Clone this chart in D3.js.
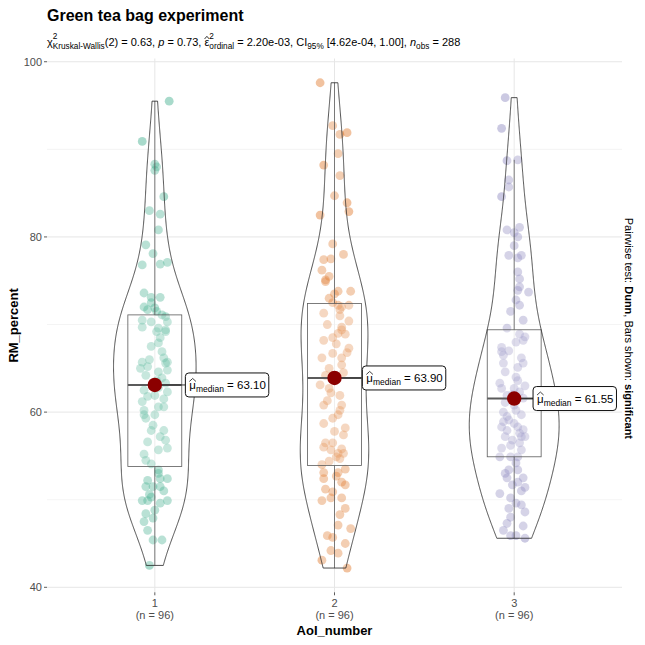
<!DOCTYPE html>
<html lang="en">
<head>
<meta charset="UTF-8">
<title>Green tea bag experiment</title>
<script src="https://d3js.org/d3.v7.min.js"></script>
<style>
  body { margin: 0; background: #fff; }
  svg { font-family: "Liberation Sans", Arial, sans-serif; }
  text { white-space: pre; }
</style>
</head>
<body>
<svg width="645" height="645"></svg>
<script>
const width = 645, height = 645;

// ---- data ----
const groups = ["1", "2", "3"];
const groupCounts = [96, 96, 96];
const groupColors = ["#1B9E77", "#D95F02", "#7570B3"];
const medians = [63.10, 63.90, 61.55];
const q1 = [53.8, 53.9, 54.9];
const q3 = [71.1, 72.4, 69.4];
const yTicks = [40, 60, 80, 100];
const yMinorTicks = [50, 70, 90];

// [horizontal jitter (category units), RM_percent]
const aoi1 = [
  [0.08,95.5],[-0.07,90.9],[0.00,88.3],[0.01,88.0],[0.00,87.6],[0.05,84.6],[-0.03,83.0],[0.03,82.6],
  [0.02,80.8],[-0.05,79.1],[-0.01,78.1],[-0.07,76.8],[0.03,76.9],[0.07,77.1],[-0.06,73.6],[-0.02,73.1],
  [0.03,73.1],[-0.02,72.5],[-0.06,72.0],[0.00,71.9],[0.04,71.1],[0.06,70.9],[-0.07,70.5],[-0.02,70.3],
  [0.07,70.3],[-0.07,69.7],[0.02,69.6],[0.06,69.4],[0.01,69.2],[0.06,69.2],[0.02,67.9],[0.04,66.9],
  [-0.07,65.7],[0.07,65.7],[0.06,65.6],[-0.08,65.0],[-0.04,65.2],[0.02,64.6],[0.07,64.8],[0.07,62.3],
  [-0.06,62.5],[0.00,61.9],[-0.07,61.2],[-0.06,60.2],[0.02,60.6],[0.05,60.6],[-0.06,59.7],[0.00,59.7],
  [-0.05,59.3],[-0.02,57.9],[0.05,57.9],[-0.04,56.6],[0.06,56.8],[0.02,55.7],[0.07,55.9],[-0.05,54.5],
  [-0.02,54.1],[0.02,53.0],[-0.04,52.2],[0.03,52.4],[0.07,52.4],[-0.05,51.5],[-0.01,51.5],[0.03,51.5],
  [-0.07,49.9],[-0.04,49.9],[0.03,49.6],[0.07,49.9],[-0.05,48.4],[-0.01,47.9],[-0.06,47.5],[-0.04,46.5],
  [-0.01,45.4],[0.04,45.4],[-0.03,42.5],[0.01,71.5],[-0.04,71.7],[0.03,68.5],[-0.02,67.5],[0.05,66.2],
  [-0.05,64.2],[0.01,63.6],[0.04,63.9],[-0.03,66.0],[0.02,62.8],[-0.04,61.8],[0.05,61.5],[-0.01,58.5],
  [0.03,57.2],[-0.06,55.2],[0.02,53.4],[-0.03,50.6],[0.05,51.0],[0.00,48.8],[-0.02,50.3],[0.06,63.3]
];
const aoi2 = [
  [-0.08,97.6],[-0.01,92.7],[0.03,91.7],[0.07,91.9],[0.02,89.5],[-0.06,88.2],[0.03,87.0],[0.00,84.7],
  [0.07,83.9],[0.08,82.9],[-0.08,82.5],[-0.01,79.2],[-0.06,77.4],[-0.02,77.5],[-0.07,76.2],[-0.03,75.5],
  [-0.05,74.9],[-0.05,75.1],[0.02,73.8],[0.09,73.8],[-0.03,73.0],[-0.01,72.5],[0.02,72.2],[0.04,72.0],
  [0.08,72.2],[0.03,71.7],[-0.06,71.3],[0.08,70.4],[0.04,69.7],[0.04,69.4],[-0.06,68.2],[-0.01,68.5],
  [0.08,67.3],[0.04,66.2],[-0.07,66.2],[-0.01,66.7],[0.04,65.4],[-0.08,63.1],[-0.03,62.7],[0.03,61.9],
  [-0.06,60.8],[0.04,60.8],[0.02,59.7],[-0.01,59.3],[-0.06,58.7],[0.05,57.4],[-0.05,56.5],[-0.01,56.5],
  [-0.02,55.7],[0.02,55.3],[0.05,55.3],[0.03,54.7],[0.01,54.9],[-0.07,54.0],[-0.06,53.1],[0.02,53.1],
  [-0.06,52.4],[0.04,52.0],[0.06,51.7],[-0.02,50.2],[-0.07,49.9],[-0.01,50.9],[0.04,50.2],[0.06,49.0],
  [0.02,47.1],[0.09,46.7],[-0.04,45.9],[-0.01,45.7],[0.06,45.0],[-0.02,44.2],[0.02,43.9],[-0.07,43.1],
  [0.07,42.2],[0.05,78.0],[0.00,73.5],[0.03,71.0],[-0.04,70.0],[0.06,68.9],[0.01,67.8],[-0.03,65.0],
  [0.05,64.5],[-0.05,64.2],[0.02,69.0],[0.07,66.8],[-0.02,62.2],[0.03,60.2],[-0.04,61.3],[0.06,58.2],
  [0.00,57.8],[-0.06,56.0],[0.04,55.8],[-0.03,54.4],[0.01,52.7],[-0.05,51.2],[0.03,48.3],[0.06,53.5]
];
const aoi3 = [
  [-0.05,95.9],[-0.07,92.4],[-0.04,88.7],[0.02,88.8],[-0.03,86.5],[-0.03,85.7],[-0.07,84.6],[-0.04,80.8],
  [0.00,80.5],[0.02,80.0],[0.03,81.1],[-0.03,77.9],[0.02,77.6],[0.04,77.9],[0.02,76.0],[0.03,74.3],
  [0.02,73.9],[0.08,73.7],[0.01,72.8],[0.03,72.2],[-0.04,69.6],[0.06,68.6],[0.01,68.0],[-0.07,67.4],
  [-0.07,66.9],[0.05,68.2],[-0.06,65.6],[0.02,65.1],[0.05,65.6],[0.01,64.0],[-0.08,63.3],[-0.07,62.7],
  [0.00,62.7],[-0.04,61.9],[0.03,62.3],[0.05,61.6],[-0.05,61.1],[0.01,60.2],[0.04,59.7],[-0.06,60.0],
  [-0.03,59.1],[-0.07,58.3],[-0.04,57.9],[0.00,58.7],[0.02,58.3],[0.04,57.2],[0.06,57.2],[-0.05,57.2],
  [-0.01,56.8],[-0.07,55.9],[0.04,55.7],[-0.08,54.9],[-0.02,54.9],[0.02,54.9],[-0.03,53.4],[0.02,53.4],
  [0.05,52.5],[-0.04,52.5],[-0.01,51.7],[0.06,51.4],[-0.08,50.7],[0.01,49.6],[0.04,49.4],[0.06,48.6],
  [-0.02,48.0],[-0.04,47.3],[-0.06,46.5],[-0.02,45.9],[0.01,45.9],[0.06,45.6],[0.03,75.2],[-0.02,71.5],
  [0.05,70.5],[0.00,79.0],[-0.03,67.0],[0.04,66.2],[-0.05,64.6],[0.02,63.6],[-0.01,62.0],[0.06,63.0],
  [-0.06,66.5],[0.03,68.9],[0.00,60.8],[-0.04,59.5],[0.05,58.0],[-0.02,56.2],[0.03,56.5],[-0.06,58.9],
  [0.01,54.2],[-0.05,53.0],[0.04,51.0],[-0.02,50.2],[0.05,47.0],[-0.03,49.0],[0.02,52.0],[0.03,57.6]
];
const groupData = [aoi1, aoi2, aoi3];

// ---- layout ----
const panel = { left: 47, right: 622, top: 58.5, bottom: 592.3 };
const svg = d3.select("svg");

const allValues = groupData.flat().map(d => d[1]);
const [vMin, vMax] = d3.extent(allValues);
const pad = (vMax - vMin) * 0.05;

const x = d3.scaleLinear().domain([0.4, groups.length + 0.6]).range([panel.left, panel.right]);
const y = d3.scaleLinear().domain([vMin - pad, vMax + pad]).range([panel.bottom, panel.top]);
const step = x(2) - x(1);

// ---- grid ----
const grid = svg.append("g");
grid.selectAll(".minor").data(yMinorTicks).enter().append("line")
  .attr("x1", panel.left).attr("x2", panel.right)
  .attr("y1", d => y(d)).attr("y2", d => y(d))
  .attr("stroke", "#efefef").attr("stroke-width", 0.7);
grid.selectAll(".major").data(yTicks).enter().append("line")
  .attr("x1", panel.left).attr("x2", panel.right)
  .attr("y1", d => y(d)).attr("y2", d => y(d))
  .attr("stroke", "#e6e6e6").attr("stroke-width", 1);
grid.selectAll(".vmajor").data(groups).enter().append("line")
  .attr("x1", (d, i) => x(i + 1)).attr("x2", (d, i) => x(i + 1))
  .attr("y1", panel.top).attr("y2", panel.bottom)
  .attr("stroke", "#e6e6e6").attr("stroke-width", 1);

// ---- axes ----
const yAxis = svg.append("g");
yAxis.selectAll("line").data(yTicks).enter().append("line")
  .attr("x1", panel.left - 3).attr("x2", panel.left)
  .attr("y1", d => y(d)).attr("y2", d => y(d))
  .attr("stroke", "#333").attr("stroke-width", 0.8);
yAxis.selectAll("text").data(yTicks).enter().append("text")
  .attr("x", panel.left - 5).attr("y", d => y(d) + 4)
  .attr("text-anchor", "end").attr("font-size", 11).attr("fill", "#4d4d4d")
  .text(d => d);

const xAxis = svg.append("g");
groups.forEach((g, i) => {
  xAxis.append("line")
    .attr("x1", x(i + 1)).attr("x2", x(i + 1))
    .attr("y1", panel.bottom).attr("y2", panel.bottom + 3)
    .attr("stroke", "#333").attr("stroke-width", 0.8);
  xAxis.append("text").attr("x", x(i + 1)).attr("y", panel.bottom + 15)
    .attr("text-anchor", "middle").attr("font-size", 11).attr("fill", "#4d4d4d").text(g);
  xAxis.append("text").attr("x", x(i + 1)).attr("y", panel.bottom + 27)
    .attr("text-anchor", "middle").attr("font-size", 11).attr("fill", "#4d4d4d")
    .text(`(n = ${groupCounts[i]})`);
});

svg.append("text")
  .attr("x", (panel.left + panel.right) / 2).attr("y", 635)
  .attr("text-anchor", "middle").attr("font-size", 13).attr("font-weight", "bold")
  .text("AoI_number");
svg.append("text")
  .attr("transform", `translate(18,${(panel.top + panel.bottom) / 2}) rotate(-90)`)
  .attr("text-anchor", "middle").attr("font-size", 13).attr("font-weight", "bold")
  .text("RM_percent");

// ---- kernel density (R's bw.nrd0, gaussian, trimmed) ----
function kde(values) {
  const sorted = values.slice().sort(d3.ascending);
  const n = sorted.length;
  const sd = d3.deviation(sorted);
  const iqr = d3.quantileSorted(sorted, 0.75) - d3.quantileSorted(sorted, 0.25);
  const bw = 0.9 * Math.min(sd, iqr / 1.34) * Math.pow(n, -0.2);
  const lo = sorted[0], hi = sorted[n - 1];
  const pts = [];
  for (let k = 0; k < 512; k++) {
    const v = lo + (hi - lo) * k / 511;
    let s = 0;
    for (const d of sorted) {
      const u = (v - d) / bw;
      s += Math.exp(-0.5 * u * u);
    }
    pts.push({ v, dens: s / (n * bw * Math.sqrt(2 * Math.PI)) });
  }
  return pts;
}
const densities = groupData.map(g => kde(g.map(d => d[1])));
const maxDens = d3.max(densities.flat(), d => d.dens);

const points = svg.append("g");
const boxes = svg.append("g");
const violins = svg.append("g");
const centres = svg.append("g");

groupData.forEach((data, i) => {
  const cx = x(i + 1);
  // jittered points
  points.selectAll(null).data(data).enter().append("circle")
    .attr("cx", d => cx + d[0] * step)
    .attr("cy", d => y(d[1]))
    .attr("r", 4.4)
    .attr("fill", groupColors[i])
    .attr("fill-opacity", 0.38);

  // boxplot
  const vals = data.map(d => d[1]);
  const iqr = q3[i] - q1[i];
  const lowW = d3.min(vals.filter(v => v >= q1[i] - 1.5 * iqr));
  const highW = d3.max(vals.filter(v => v <= q3[i] + 1.5 * iqr));
  const bw = 0.3 * step;
  boxes.append("line").attr("x1", cx).attr("x2", cx)
    .attr("y1", y(highW)).attr("y2", y(q3[i]))
    .attr("stroke", "#333").attr("stroke-width", 0.8);
  boxes.append("line").attr("x1", cx).attr("x2", cx)
    .attr("y1", y(q1[i])).attr("y2", y(lowW))
    .attr("stroke", "#333").attr("stroke-width", 0.8);
  boxes.append("rect")
    .attr("x", cx - bw / 2).attr("width", bw)
    .attr("y", y(q3[i])).attr("height", y(q1[i]) - y(q3[i]))
    .attr("fill", "white").attr("fill-opacity", 0.2)
    .attr("stroke", "#333").attr("stroke-width", 0.8);
  boxes.append("line")
    .attr("x1", cx - bw / 2).attr("x2", cx + bw / 2)
    .attr("y1", y(medians[i])).attr("y2", y(medians[i]))
    .attr("stroke", "#333").attr("stroke-width", 2);

  // violin (area scaled, width 0.5)
  const half = 0.25 * step;
  const area = d3.area()
    .y(d => y(d.v))
    .x0(d => cx - half * d.dens / maxDens)
    .x1(d => cx + half * d.dens / maxDens);
  violins.append("path")
    .attr("d", area(densities[i]))
    .attr("fill", "white").attr("fill-opacity", 0.2)
    .attr("stroke", "#222").attr("stroke-width", 0.8);
});

// ---- centrality points and labels ----
const labelNudge = [0.17, 0.155, 0.105];
groupData.forEach((data, i) => {
  const cx = x(i + 1);
  const cy = y(medians[i]);
  const lx = cx + labelNudge[i] * step;
  centres.append("line").attr("x1", cx).attr("x2", lx).attr("y1", cy).attr("y2", cy)
    .attr("stroke", "#333").attr("stroke-width", 1);
  centres.append("circle").attr("cx", cx).attr("cy", cy).attr("r", 7.2)
    .attr("fill", "#8B0000");

  const lg = centres.append("g");
  const txt = lg.append("text").attr("y", cy + 4).attr("font-size", 11.5);
  txt.append("tspan").attr("x", lx + 4).text("μ");
  txt.append("tspan").attr("font-size", 8.5).attr("dy", 3).text("median");
  txt.append("tspan").attr("dy", -3).text(" = " + medians[i].toFixed(2));
  const bb = txt.node().getBBox();
  lg.insert("rect", "text")
    .attr("x", lx).attr("y", cy - 12)
    .attr("width", bb.width + 7).attr("height", 24)
    .attr("rx", 3.5)
    .attr("fill", "white").attr("stroke", "#111").attr("stroke-width", 1);
  lg.append("path")
    .attr("d", `M${lx + 4},${cy - 3.5} L${lx + 7.3},${cy - 6.5} L${lx + 10.6},${cy - 3.5}`)
    .attr("fill", "none").attr("stroke", "#111").attr("stroke-width", 0.8);
});

// ---- title, subtitle, caption ----
svg.append("text").attr("x", 47).attr("y", 21)
  .attr("font-size", 16).attr("font-weight", "bold").text("Green tea bag experiment");

function richText(g, x0, y0, parts, size) {
  let cx = x0, prevStart = x0;
  parts.forEach(p => {
    const fs = p.pos ? size * 0.75 : size;
    const dy = p.pos === "sup" ? -size * 0.6 : p.pos === "sub" ? size * 0.3 : 0;
    const sx = p.stack ? prevStart : cx;
    const el = g.append("text").attr("x", sx).attr("y", y0 + dy).attr("font-size", fs)
      .attr("font-style", p.italic ? "italic" : null).text(p.t);
    const w = el.node().getComputedTextLength();
    if (p.hat) {
      const m = sx + w / 2;
      g.append("path")
        .attr("d", `M${m - 2.3},${y0 - size * 0.64} L${m},${y0 - size * 0.88} L${m + 2.3},${y0 - size * 0.64}`)
        .attr("fill", "none").attr("stroke", "#000").attr("stroke-width", 0.8);
    }
    if (!p.stack) prevStart = sx;
    cx = Math.max(cx, sx + w);
  });
}
const subtitle = svg.append("g");
richText(subtitle, 47, 46, [
  { t: "χ" }, { t: "2", pos: "sup" }, { t: "Kruskal-Wallis", pos: "sub", stack: true },
  { t: "(2) = 0.63, " }, { t: "p", italic: true }, { t: " = 0.73, " },
  { t: "ε", hat: true }, { t: "2", pos: "sup" }, { t: "ordinal", pos: "sub", stack: true },
  { t: " = 2.20e-03, CI" }, { t: "95%", pos: "sub" }, { t: " [4.62e-04, 1.00], " },
  { t: "n", italic: true }, { t: "obs", pos: "sub" }, { t: " = 288" }
], 11);

const cap = svg.append("text")
  .attr("transform", `translate(625,${(panel.top + panel.bottom) / 2 + 3}) rotate(90)`)
  .attr("text-anchor", "middle").attr("font-size", 11);
cap.append("tspan").text("Pairwise test: ");
cap.append("tspan").attr("font-weight", "bold").text("Dunn");
cap.append("tspan").text(", Bars shown: ");
cap.append("tspan").attr("font-weight", "bold").text("significant");
</script>
</body>
</html>
